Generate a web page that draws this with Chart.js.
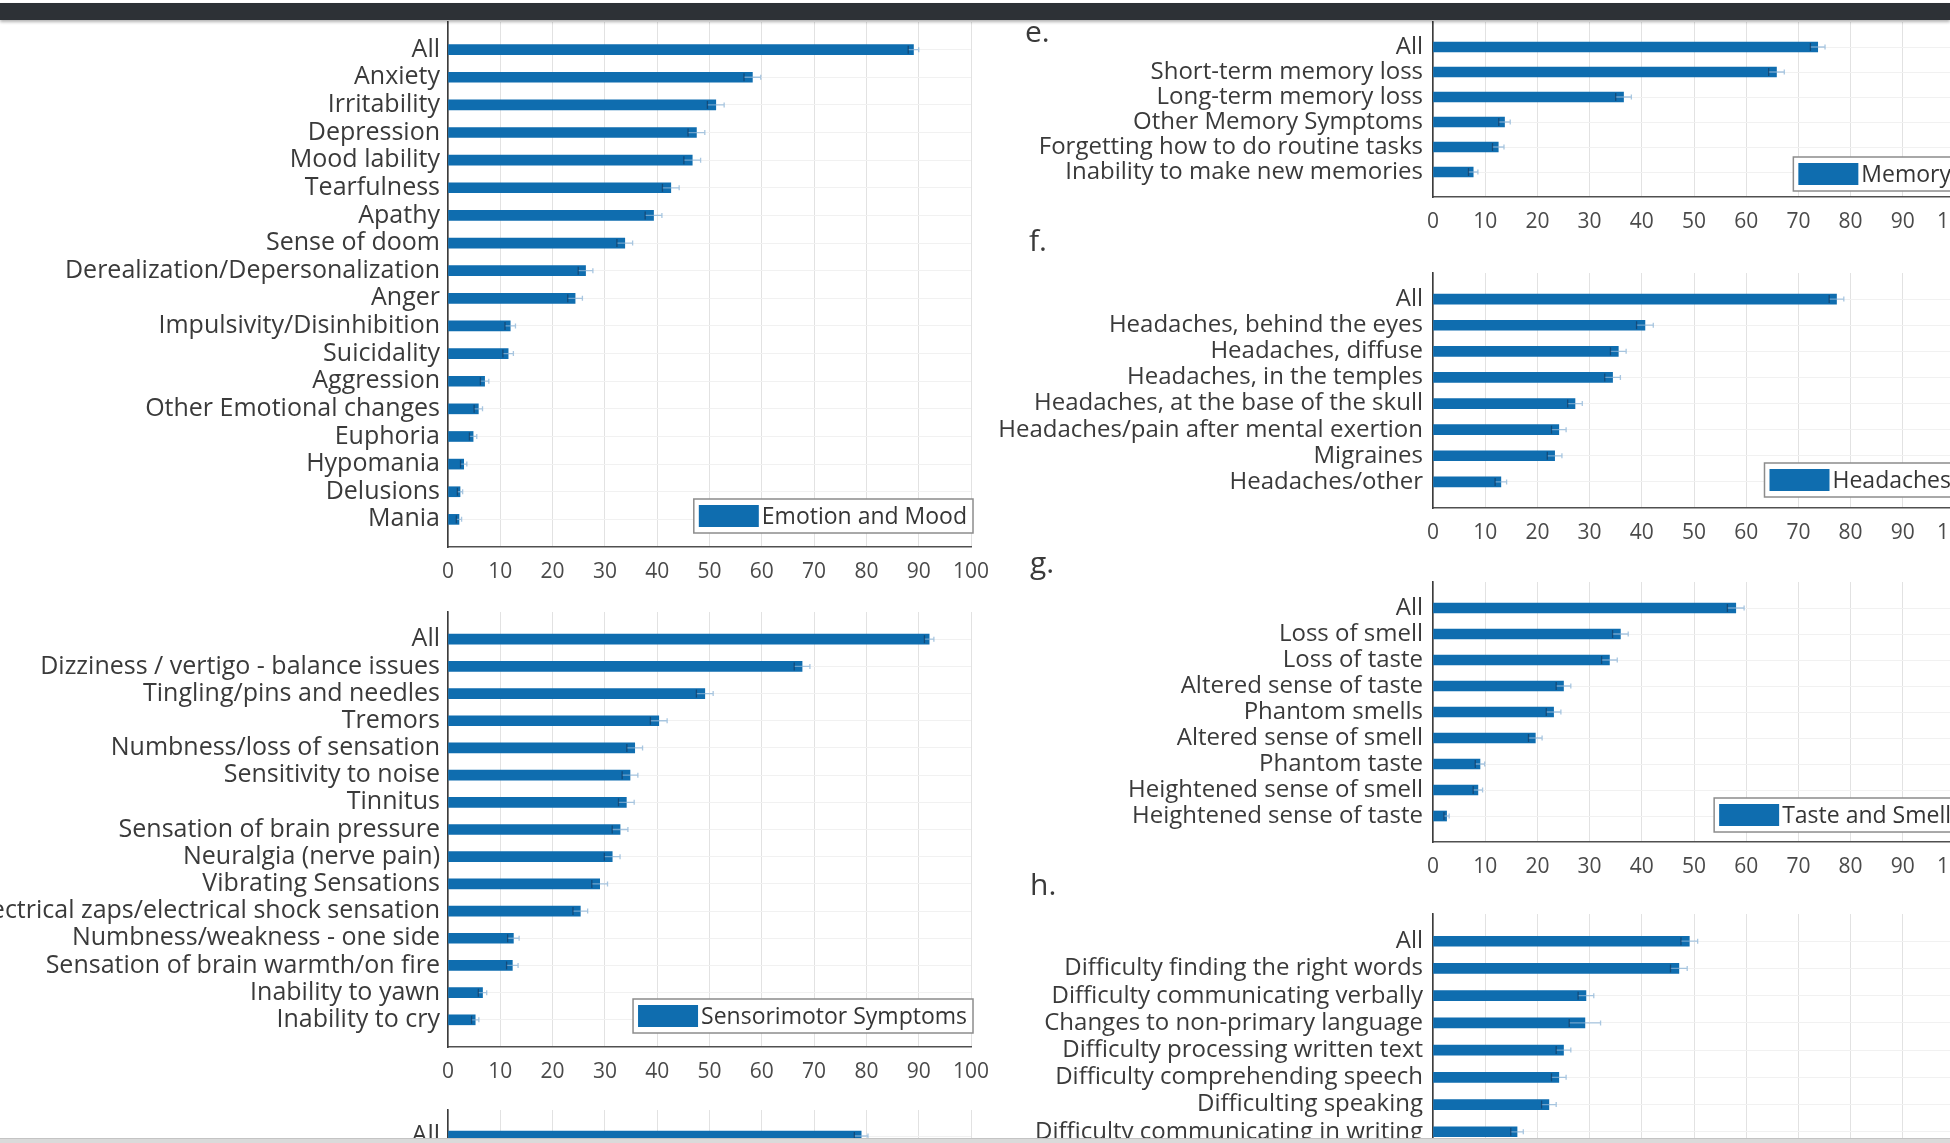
<!DOCTYPE html>
<html>
<head>
<meta charset="utf-8">
<script src="https://cdn.jsdelivr.net/npm/chart.js@4.4.1/dist/chart.umd.min.js"></script>
<style>
  html, body { margin: 0; padding: 0; width: 1950px; height: 1143px; overflow: hidden; background: #fff; }
  canvas { position: absolute; }
  .tag { position: absolute; font-family: 'Open Sans', sans-serif; font-size: 30px; line-height: 1; color: #3a3a3a; }
  #topband { position: absolute; left: 0; top: 3px; width: 1950px; height: 17px; background: #2d3136; box-shadow: 0 2px 3px rgba(0,0,0,0.3); z-index: 5; }
  #bottomband { position: absolute; left: 0; top: 1138px; width: 1950px; height: 5px; background: #dadada; border-top: 1px solid #c4c4c4; z-index: 5; }
</style>
</head>
<body>
<div id="topband"></div>
<canvas id="emotion"></canvas>
<canvas id="sensorimotor"></canvas>
<canvas id="cognition"></canvas>
<canvas id="memory"></canvas>
<canvas id="headaches"></canvas>
<canvas id="tasteSmell"></canvas>
<canvas id="speech"></canvas>
<div class="tag" style="left:1025px;top:16px">e.</div>
<div class="tag" style="left:1029px;top:225px">f.</div>
<div class="tag" style="left:1030px;top:547px">g.</div>
<div class="tag" style="left:1030px;top:869px">h.</div>
<div id="bottomband"></div>
<script>
// ---- data: % of respondents reporting each symptom ----
const emotionLabels = ['All', 'Anxiety', 'Irritability', 'Depression', 'Mood lability', 'Tearfulness', 'Apathy',
  'Sense of doom', 'Derealization/Depersonalization', 'Anger', 'Impulsivity/Disinhibition', 'Suicidality',
  'Aggression', 'Other Emotional changes', 'Euphoria', 'Hypomania', 'Delusions', 'Mania'];
const emotionValues = [89, 58.2, 51.2, 47.5, 46.7, 42.6, 39.3, 33.8, 26.3, 24.3, 11.9, 11.5, 7.0, 5.8, 4.8, 3.0, 2.3, 2.1];
const emotionErrors = [1.0, 1.6, 1.6, 1.6, 1.6, 1.6, 1.6, 1.5, 1.4, 1.4, 1.0, 1.0, 0.8, 0.8, 0.7, 0.6, 0.5, 0.5];

const sensorimotorLabels = ['All', 'Dizziness / vertigo - balance issues', 'Tingling/pins and needles', 'Tremors',
  'Numbness/loss of sensation', 'Sensitivity to noise', 'Tinnitus', 'Sensation of brain pressure',
  'Neuralgia (nerve pain)', 'Vibrating Sensations', 'Electrical zaps/electrical shock sensation',
  'Numbness/weakness - one side', 'Sensation of brain warmth/on fire', 'Inability to yawn', 'Inability to cry'];
const sensorimotorValues = [92, 67.7, 49.1, 40.3, 35.7, 34.8, 34.1, 32.9, 31.4, 29.0, 25.3, 12.5, 12.3, 6.6, 5.2];
const sensorimotorErrors = [0.9, 1.5, 1.6, 1.6, 1.5, 1.5, 1.5, 1.5, 1.5, 1.5, 1.4, 1.1, 1.1, 0.8, 0.7];

const cognitionLabels = ['All'];
const cognitionValues = [79];
const cognitionErrors = [1.3];

const memoryLabels = ['All', 'Short-term memory loss', 'Long-term memory loss', 'Other Memory Symptoms',
  'Forgetting how to do routine tasks', 'Inability to make new memories'];
const memoryValues = [73.7, 65.8, 36.5, 13.7, 12.5, 7.7];
const memoryErrors = [1.4, 1.5, 1.5, 1.1, 1.1, 0.9];

const headacheLabels = ['All', 'Headaches, behind the eyes', 'Headaches, diffuse', 'Headaches, in the temples',
  'Headaches, at the base of the skull', 'Headaches/pain after mental exertion', 'Migraines', 'Headaches/other'];
const headacheValues = [77.3, 40.6, 35.5, 34.4, 27.2, 24.1, 23.3, 13.0];
const headacheErrors = [1.4, 1.6, 1.5, 1.5, 1.4, 1.4, 1.4, 1.1];

const tasteSmellLabels = ['All', 'Loss of smell', 'Loss of taste', 'Altered sense of taste', 'Phantom smells',
  'Altered sense of smell', 'Phantom taste', 'Heightened sense of smell', 'Heightened sense of taste'];
const tasteSmellValues = [58.0, 35.9, 33.8, 25.0, 23.1, 19.6, 9.0, 8.6, 2.6];
const tasteSmellErrors = [1.6, 1.5, 1.5, 1.4, 1.4, 1.3, 0.9, 0.9, 0.5];

const speechLabels = ['All', 'Difficulty finding the right words', 'Difficulty communicating verbally',
  'Changes to non-primary language', 'Difficulty processing written text', 'Difficulty comprehending speech',
  'Difficulting speaking', 'Difficulty communicating in writing'];
const speechValues = [49.1, 47.1, 29.3, 29.1, 25.0, 24.1, 22.2, 16.1];
const speechErrors = [1.6, 1.6, 1.5, 3.0, 1.4, 1.4, 1.4, 1.2];

const xTicks = [0, 10, 20, 30, 40, 50, 60, 70, 80, 90, 100];

// ---- drawing ----
const BLUE = '#0f6daf';
Chart.defaults.font.family = "'Open Sans', sans-serif";

// error whiskers around each bar end
const errorBars = {
  id: 'errorBars',
  afterDatasetsDraw(chart, args, opts) {
    const errs = opts.errors;
    if (!errs) return;
    const { ctx } = chart;
    const xs = chart.scales.x, ys = chart.scales.y;
    ctx.save();
    ctx.lineWidth = 1.3;
    chart.data.datasets[0].data.forEach((p, i) => {
      const e = errs[i];
      const y = ys.getPixelForValue(p.y);
      const x0 = xs.getPixelForValue(p.x - e);
      const x1 = xs.getPixelForValue(p.x + e);
      ctx.strokeStyle = 'rgba(140,180,215,0.75)';
      ctx.beginPath();
      ctx.moveTo(x0, y); ctx.lineTo(x1, y);
      ctx.moveTo(x1, y - 2.5); ctx.lineTo(x1, y + 2.5);
      ctx.stroke();
      ctx.strokeStyle = 'rgba(20,60,100,0.7)';
      ctx.beginPath();
      ctx.moveTo(x0, y - 4); ctx.lineTo(x0, y + 4);
      ctx.stroke();
    });
    ctx.restore();
  }
};

// boxed legend in the lower right corner of the plot
const boxLegend = {
  id: 'boxLegend',
  afterDraw(chart, args, opts) {
    if (opts.show === false) return;
    const { ctx, chartArea } = chart;
    const ds = chart.data.datasets[0];
    ctx.save();
    ctx.font = `${opts.size || 23}px 'Open Sans', sans-serif`;
    const tw = ctx.measureText(ds.label).width;
    const h = 34, sw = 60;
    const w = 68 + tw + 6;
    const x = chartArea.right + 2 - w;
    const y = chartArea.bottom - (opts.dy || 12) - h;
    ctx.fillStyle = '#fff';
    ctx.fillRect(x, y, w, h);
    ctx.strokeStyle = '#8c8c8c';
    ctx.lineWidth = 1.5;
    ctx.strokeRect(x, y, w, h);
    ctx.fillStyle = ds.backgroundColor;
    ctx.fillRect(x + 5, y + 6, sw, h - 12);
    ctx.fillStyle = '#353535';
    ctx.textBaseline = 'middle';
    ctx.textAlign = 'left';
    ctx.fillText(ds.label, x + 68, y + h / 2 + 1);
    ctx.restore();
  }
};

function panel(id, labels, values, errors, title, g) {
  const cv = document.getElementById(id);
  const h = g.plotBottom + 60 - g.top;
  cv.width = g.w; cv.height = h;
  cv.style.left = g.left + 'px'; cv.style.top = g.top + 'px';
  cv.style.width = g.w + 'px'; cv.style.height = h + 'px';
  new Chart(cv, {
    type: 'bar',
    data: {
      datasets: [{
        label: title,
        data: values.map((v, i) => ({ x: v, y: i })),
        backgroundColor: BLUE,
        borderWidth: 0,
        barThickness: 10
      }]
    },
    options: {
      indexAxis: 'y',
      responsive: false,
      animation: false,
      devicePixelRatio: 1,
      layout: { padding: { top: g.plotTop - g.top, right: g.left + g.w - g.plotRight, left: 0, bottom: 0 } },
      plugins: {
        legend: { display: false },
        tooltip: { enabled: false },
        errorBars: { errors },
        boxLegend: { dy: g.legendDy, size: 23, show: g.showLegend !== false }
      },
      scales: {
        x: {
          type: 'linear', position: 'bottom', min: xTicks[0], max: xTicks[xTicks.length - 1],
          offset: false,
          afterBuildTicks(s) { s.ticks = xTicks.map(v => ({ value: v })); },
          ticks: { padding: 12, color: '#4a4a4a', font: { size: 21 }, maxRotation: 0 },
          grid: { color: '#e2e2e2', lineWidth: 1, drawTicks: false, offset: false },
          border: { color: '#505050', width: 1.5 },
          afterFit(s) { s.height = 60; s.paddingLeft = 0; s.paddingRight = 0; }
        },
        y: {
          type: 'linear', position: 'left', reverse: true, min: -1, max: labels.length,
          offset: false,
          ticks: {
            stepSize: 1, autoSkip: false, padding: g.labelPad, color: '#3a3a3a',
            font: { size: g.labelSize },
            callback: v => labels[v] ?? ''
          },
          grid: { color: c => (c.tick && c.tick.value >= 0 && c.tick.value < labels.length) ? '#f1f1f1' : 'rgba(0,0,0,0)', drawTicks: false, offset: false },
          border: { color: '#3c3c3c', width: 1.6 },
          afterFit(s) { s.width = g.plotLeft - g.left; s.paddingTop = 0; s.paddingBottom = 0; }
        }
      }
    },
    plugins: [errorBars, boxLegend]
  });
}

const leftCol = { left: 0, w: 1000, plotLeft: 448, plotRight: 971, labelSize: 25, labelPad: 8 };
const rightCol = { left: 1000, w: 1000, plotLeft: 1433, plotRight: 1955, labelSize: 24, labelPad: 10 };

panel('emotion', emotionLabels, emotionValues, emotionErrors, 'Emotion and Mood',
  { ...leftCol, top: 0, plotTop: 22, plotBottom: 547, legendDy: 14 });
panel('sensorimotor', sensorimotorLabels, sensorimotorValues, sensorimotorErrors, 'Sensorimotor Symptoms',
  { ...leftCol, top: 590, plotTop: 612, plotBottom: 1047, legendDy: 14 });
panel('cognition', cognitionLabels, cognitionValues, cognitionErrors, 'Cognitive Dysfunction',
  { ...leftCol, top: 1088, plotTop: 1110, plotBottom: 1162, legendDy: 12, showLegend: false });
panel('memory', memoryLabels, memoryValues, memoryErrors, 'Memory',
  { ...rightCol, top: 0, plotTop: 22, plotBottom: 197, legendDy: 6 });
panel('headaches', headacheLabels, headacheValues, headacheErrors, 'Headaches',
  { ...rightCol, top: 250, plotTop: 273, plotBottom: 508, legendDy: 11 });
panel('tasteSmell', tasteSmellLabels, tasteSmellValues, tasteSmellErrors, 'Taste and Smell',
  { ...rightCol, top: 560, plotTop: 582, plotBottom: 842, legendDy: 10 });
panel('speech', speechLabels, speechValues, speechErrors, 'Speech and Language',
  { ...rightCol, top: 890, plotTop: 914, plotBottom: 1159, legendDy: 12, showLegend: false });
</script>
</body>
</html>
